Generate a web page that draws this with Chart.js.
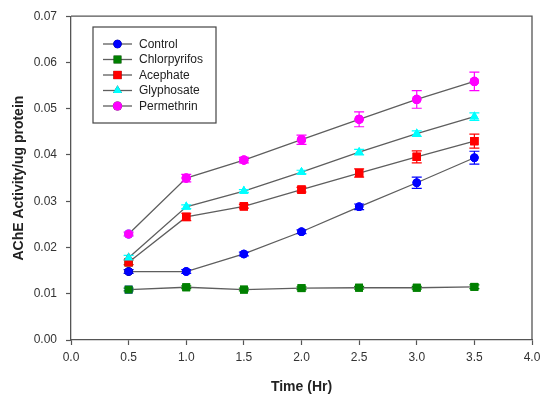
<!DOCTYPE html>
<html>
<head>
<meta charset="utf-8">
<script src="https://cdn.jsdelivr.net/npm/chart.js@4/dist/chart.umd.min.js"></script>
<style>
  html, body { margin: 0; padding: 0; background: #fff; }
  #wrap { width: 550px; height: 403px; }
</style>
</head>
<body>
<div id="wrap"><canvas id="chart" width="550" height="403"></canvas></div>
<script>
// time points (Hr)
const times = [0.5, 1.0, 1.5, 2.0, 2.5, 3.0, 3.5];

const seriesNames = ['Control', 'Chlorpyrifos', 'Acephate', 'Glyphosate', 'Permethrin'];

// mean AChE activity / ug protein
const control      = [0.0148, 0.0148, 0.0186, 0.0234, 0.0288, 0.0340, 0.0394];
const chlorpyrifos = [0.0109, 0.0114, 0.0109, 0.0112, 0.0113, 0.0113, 0.0115];
const acephate     = [0.0168, 0.0266, 0.0289, 0.0325, 0.0361, 0.0396, 0.0430];
const glyphosate   = [0.0178, 0.0288, 0.0322, 0.0363, 0.0406, 0.0446, 0.0483];
const permethrin   = [0.0229, 0.0350, 0.0389, 0.0433, 0.0477, 0.0520, 0.0559];

// error (+/-)
const controlErr      = [0.0004, 0.0004, 0.0004, 0.0004, 0.0006, 0.0012, 0.0014];
const chlorpyrifosErr = [0.0003, 0.0003, 0.0003, 0.0003, 0.0003, 0.0003, 0.0004];
const acephateErr     = [0.0005, 0.0008, 0.0004, 0.0005, 0.0009, 0.0013, 0.0015];
const glyphosateErr   = [0.0005, 0.0004, 0.0003, 0.0004, 0.0006, 0.0006, 0.0008];
const permethrinErr   = [0.0004, 0.0008, 0.0006, 0.0010, 0.0016, 0.0019, 0.0020];

const colors = ['#0000ff', '#008000', '#ff0000', '#00ffff', '#ff00ff'];
const styles = ['circle', 'rect', 'rect', 'triangle', 'circle'];
const radii  = [4.2, 5.5, 5.8, 5.2, 4.6];

const allValues = [control, chlorpyrifos, acephate, glyphosate, permethrin];
const allErrors = [controlErr, chlorpyrifosErr, acephateErr, glyphosateErr, permethrinErr];

const yTicks = [0, 0.01, 0.02, 0.03, 0.04, 0.05, 0.06, 0.07];
const xTicks = [0, 0.5, 1.0, 1.5, 2.0, 2.5, 3.0, 3.5, 4.0];

const FONT = "'Liberation Sans', Arial, sans-serif";
const AXIS = '#555555';

const datasets = seriesNames.map((name, i) => ({
  label: name,
  data: times.map((t, j) => ({ x: t, y: allValues[i][j] })),
  errors: allErrors[i],
  borderColor: '#5e5e5e',
  borderWidth: 1.3,
  backgroundColor: colors[i],
  pointBackgroundColor: colors[i],
  pointBorderColor: colors[i],
  pointBorderWidth: 0,
  pointStyle: styles[i],
  pointRadius: radii[i],
  tension: 0,
  fill: false
}));

// error bars, then markers redrawn on top
const errorBars = {
  id: 'errorBars',
  afterDatasetsDraw(chart) {
    const ctx = chart.ctx;
    const xs = chart.scales.x, ys = chart.scales.y;
    ctx.save();
    chart.data.datasets.forEach((ds, i) => {
      ctx.strokeStyle = colors[i];
      ctx.lineWidth = 1.2;
      ds.data.forEach((p, j) => {
        const e = ds.errors[j];
        const px = xs.getPixelForValue(p.x);
        const top = ys.getPixelForValue(p.y + e);
        const bot = ys.getPixelForValue(p.y - e);
        ctx.beginPath();
        ctx.moveTo(px, top); ctx.lineTo(px, bot);
        ctx.moveTo(px - 5, top); ctx.lineTo(px + 5, top);
        ctx.moveTo(px - 5, bot); ctx.lineTo(px + 5, bot);
        ctx.stroke();
      });
      const meta = chart.getDatasetMeta(i);
      meta.data.forEach(el => {
        Chart.helpers.drawPoint(ctx, {
          pointStyle: styles[i], radius: radii[i], rotation: 0, borderWidth: 0
        }, el.x, el.y);
        ctx.fillStyle = colors[i];
        ctx.fill();
      });
    });
    ctx.restore();
  }
};

// frame around plot + boxed legend
const frameLegend = {
  id: 'frameLegend',
  afterDraw(chart) {
    const ctx = chart.ctx;
    const a = chart.chartArea;
    ctx.save();
    ctx.strokeStyle = AXIS;
    ctx.lineWidth = 1.3;
    ctx.beginPath();
    ctx.moveTo(a.left, a.top); ctx.lineTo(a.right, a.top); ctx.lineTo(a.right, a.bottom);
    ctx.stroke();

    // legend box
    const bx = 93, by = 27, bw = 123, bh = 96;
    ctx.strokeStyle = '#444444';
    ctx.lineWidth = 1.2;
    ctx.strokeRect(bx, by, bw, bh);
    ctx.font = '12px ' + FONT;
    ctx.textBaseline = 'middle';
    chart.data.datasets.forEach((ds, i) => {
      const y = 44 + i * 15.5;
      ctx.strokeStyle = '#5e5e5e';
      ctx.lineWidth = 1.3;
      ctx.beginPath();
      ctx.moveTo(103, y); ctx.lineTo(132, y);
      ctx.stroke();
      Chart.helpers.drawPoint(ctx, {
        pointStyle: styles[i], radius: radii[i], rotation: 0, borderWidth: 0
      }, 117.5, y);
      ctx.fillStyle = colors[i];
      ctx.fill();
      ctx.fillStyle = '#222222';
      ctx.fillText(ds.label, 139, y + 0.5);
    });
    ctx.restore();
  }
};

new Chart(document.getElementById('chart').getContext('2d'), {
  type: 'line',
  data: { datasets: datasets },
  options: {
    responsive: false,
    animation: false,
    layout: { padding: { top: 16, right: 18, left: 0, bottom: 0 } },
    plugins: {
      legend: { display: false },
      tooltip: { enabled: false }
    },
    scales: {
      x: {
        type: 'linear',
        min: 0, max: 4,
        afterBuildTicks: s => { s.ticks = xTicks.map(v => ({ value: v })); },
        afterFit: s => { s.height = 63; },
        ticks: {
          callback: v => v.toFixed(1),
          font: { family: FONT, size: 12 },
          color: '#333333',
          padding: 5,
          maxRotation: 0
        },
        grid: { drawOnChartArea: false, drawTicks: true, tickLength: 5, tickColor: AXIS, tickWidth: 1.2 },
        border: { color: AXIS, width: 1.3 },
        title: {
          display: true,
          text: 'Time (Hr)',
          font: { family: FONT, size: 14, weight: 'bold' },
          color: '#222222',
          padding: { top: 0, bottom: 7 }
        }
      },
      y: {
        type: 'linear',
        min: 0, max: 0.07,
        afterBuildTicks: s => { s.ticks = yTicks.map(v => ({ value: v })); },
        afterFit: s => { s.width = 71; },
        ticks: {
          callback: v => v.toFixed(2),
          font: { family: FONT, size: 12 },
          color: '#333333',
          padding: 9
        },
        grid: { drawOnChartArea: false, drawTicks: true, tickLength: 5, tickColor: AXIS, tickWidth: 1.2 },
        border: { color: AXIS, width: 1.3 },
        title: {
          display: true,
          text: 'AChE Activity/ug protein',
          font: { family: FONT, size: 14, weight: 'bold' },
          color: '#222222',
          padding: { top: 11, bottom: 0 }
        }
      }
    }
  },
  plugins: [errorBars, frameLegend]
});
</script>
</body>
</html>
